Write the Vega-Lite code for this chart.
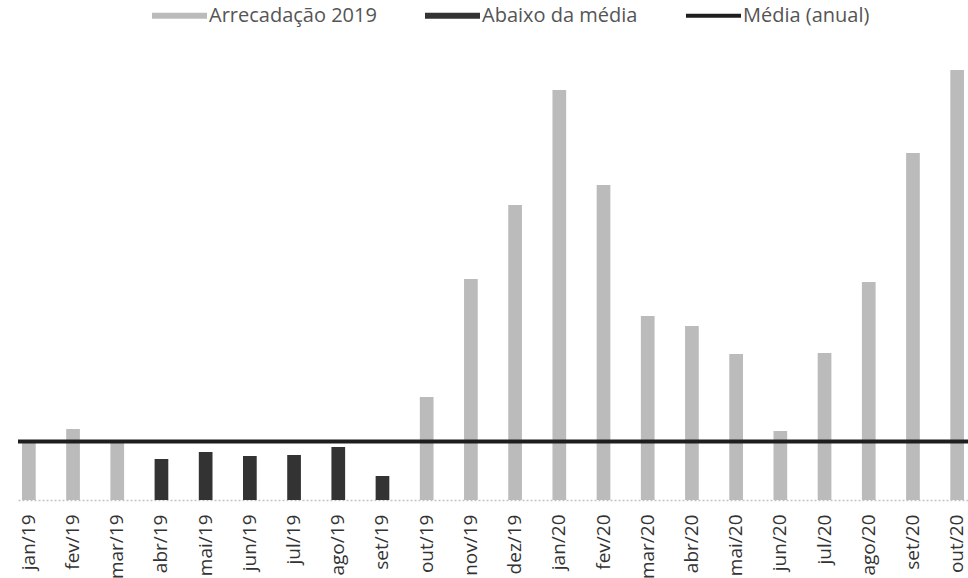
{
  "$schema": "https://vega.github.io/schema/vega-lite/v6.json",
  "autosize": "none",
  "width": 950,
  "height": 440,
  "padding": {"left": 18, "top": 60, "right": 0, "bottom": 78},
  "background": "white",
  "config": {
    "view": {"stroke": null},
    "font": "Open Sans"
  },
  "layer": [
    {
      "data": {
        "values": [
          {"mes": "jan/19", "valor": 58, "serie": "Arrecadação 2019"},
          {"mes": "fev/19", "valor": 71, "serie": "Arrecadação 2019"},
          {"mes": "mar/19", "valor": 58, "serie": "Arrecadação 2019"},
          {"mes": "abr/19", "valor": 41, "serie": "Abaixo da média"},
          {"mes": "mai/19", "valor": 48, "serie": "Abaixo da média"},
          {"mes": "jun/19", "valor": 44, "serie": "Abaixo da média"},
          {"mes": "jul/19", "valor": 45, "serie": "Abaixo da média"},
          {"mes": "ago/19", "valor": 53, "serie": "Abaixo da média"},
          {"mes": "set/19", "valor": 24, "serie": "Abaixo da média"},
          {"mes": "out/19", "valor": 103, "serie": "Arrecadação 2019"},
          {"mes": "nov/19", "valor": 221, "serie": "Arrecadação 2019"},
          {"mes": "dez/19", "valor": 295, "serie": "Arrecadação 2019"},
          {"mes": "jan/20", "valor": 410, "serie": "Arrecadação 2019"},
          {"mes": "fev/20", "valor": 315, "serie": "Arrecadação 2019"},
          {"mes": "mar/20", "valor": 184, "serie": "Arrecadação 2019"},
          {"mes": "abr/20", "valor": 174, "serie": "Arrecadação 2019"},
          {"mes": "mai/20", "valor": 146, "serie": "Arrecadação 2019"},
          {"mes": "jun/20", "valor": 69, "serie": "Arrecadação 2019"},
          {"mes": "jul/20", "valor": 147, "serie": "Arrecadação 2019"},
          {"mes": "ago/20", "valor": 218, "serie": "Arrecadação 2019"},
          {"mes": "set/20", "valor": 347, "serie": "Arrecadação 2019"},
          {"mes": "out/20", "valor": 430, "serie": "Arrecadação 2019"}
        ]
      },
      "mark": {"type": "bar"},
      "encoding": {
        "x": {
          "field": "mes",
          "type": "nominal",
          "sort": null,
          "scale": {"paddingInner": 0.69, "paddingOuter": 0.09},
          "axis": {
            "title": null,
            "labelAngle": -90,
            "labelFont": "Open Sans",
            "labelFontSize": 19,
            "labelColor": "#333333",
            "labelPadding": 14,
            "ticks": false,
            "domainColor": "#c4c4c4",
            "domainDash": [2, 2],
            "domainWidth": 1.5
          }
        },
        "y": {
          "field": "valor",
          "type": "quantitative",
          "scale": {"domain": [0, 440], "nice": false},
          "axis": null
        },
        "color": {
          "field": "serie",
          "type": "nominal",
          "scale": {
            "domain": ["Arrecadação 2019", "Abaixo da média", "Média (anual)"],
            "range": ["#bbbbbb", "#333333", "#1e1e1e"]
          },
          "legend": {
            "title": null,
            "orient": "none",
            "direction": "horizontal",
            "legendX": 134,
            "legendY": -72,
            "padding": 0,
            "labelFont": "Open Sans",
            "labelFontSize": 20,
            "labelColor": "#555555",
            "labelOffset": 2,
            "labelLimit": 400,
            "symbolSize": 3025,
            "symbolStrokeWidth": 0,
            "columnPadding": 48,
            "encode": {
              "symbols": {
                "update": {
                  "shape": [
                    {"test": "datum.value === 'Média (anual)'", "value": "M-1,-0.075H1V0.075H-1Z"},
                    {"value": "M-1,-0.11H1V0.11H-1Z"}
                  ]
                }
              }
            }
          }
        }
      }
    },
    {
      "data": {"values": [{"media": 58.5, "serie": "Média (anual)"}]},
      "mark": {"type": "rule", "strokeWidth": 4},
      "encoding": {
        "y": {"field": "media", "type": "quantitative"},
        "color": {"field": "serie", "type": "nominal"}
      }
    }
  ]
}
